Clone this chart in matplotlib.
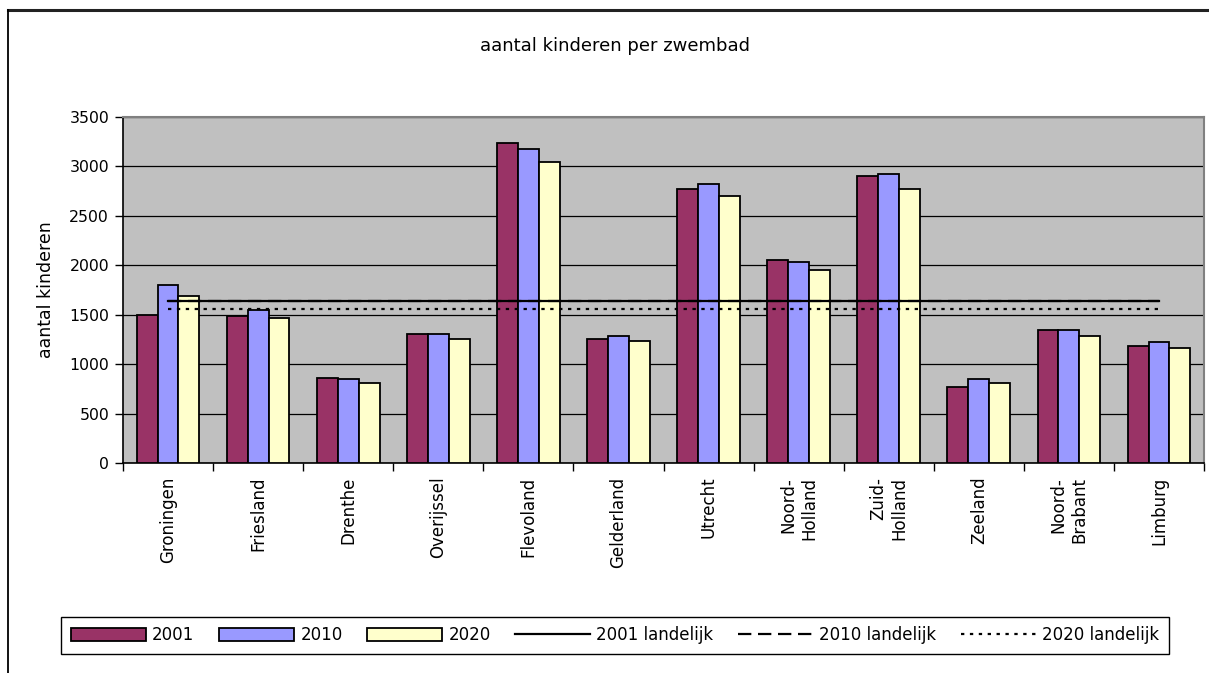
import matplotlib
matplotlib.use("Agg")
import matplotlib.pyplot as plt
import numpy as np
from matplotlib.lines import Line2D

# ---- data ----
provinces = ["Groningen", "Friesland", "Drenthe", "Overijssel", "Flevoland",
             "Gelderland", "Utrecht", "Noord-\nHolland", "Zuid-\nHolland",
             "Zeeland", "Noord-\nBrabant", "Limburg"]
v2001 = [1500, 1490, 860, 1305, 3240, 1250, 2775, 2050, 2900, 765, 1345, 1185]
v2010 = [1800, 1550, 845, 1305, 3180, 1285, 2820, 2030, 2920, 845, 1345, 1225]
v2020 = [1690, 1470, 805, 1250, 3040, 1230, 2700, 1955, 2775, 805, 1285, 1165]
nat2001 = 1640
nat2010 = 1636
nat2020 = 1560
series_labels = ["2001", "2010", "2020"]
line_labels = ["2001 landelijk", "2010 landelijk", "2020 landelijk"]
yticks = [0, 500, 1000, 1500, 2000, 2500, 3000, 3500]
title = "aantal kinderen per zwembad"
ylabel = "aantal kinderen"

colors = ["#993366", "#9999FF", "#FFFFCC"]

W, H = 1209, 673
fig = plt.figure(figsize=(W / 100, H / 100), dpi=100)
fig.patch.set_facecolor("white")

left, right, top, bottom = 123, 1204, 117, 463
ax = fig.add_axes([left / W, 1 - bottom / H, (right - left) / W, (bottom - top) / H])
ax.set_facecolor("#C0C0C0")

n = len(provinces)
x = np.arange(n)
bw = 0.232
bar_handles = []
for i, (vals, c, lab) in enumerate(zip([v2001, v2010, v2020], colors, series_labels)):
    b = ax.bar(x + (i - 1) * bw, vals, width=bw, color=c, edgecolor="black",
               linewidth=1.3, label=lab, zorder=3)
    bar_handles.append(b)

l1, = ax.plot(x, [nat2001] * n, color="black", lw=1.6, ls="-", zorder=4, label=line_labels[0])
l2, = ax.plot(x, [nat2010] * n, color="black", lw=1.6, ls=(0, (6, 3)), zorder=4, label=line_labels[1])
l3, = ax.plot(x, [nat2020] * n, color="black", lw=1.6, ls=(0, (1.5, 2.5)), zorder=4, label=line_labels[2])

ax.set_xlim(-0.5, n - 0.5)
ax.set_ylim(0, 3500)
ax.set_yticks(yticks)
ax.set_yticklabels([str(t) for t in yticks], fontsize=11.3)
ax.yaxis.grid(True, color="black", lw=0.9, zorder=1)
ax.set_axisbelow(True)
ax.tick_params(axis="y", direction="out", length=6, width=1, color="black", pad=4)

# category tick marks at boundaries, labels at centers
ax.set_xticks(np.arange(n + 1) - 0.5)
ax.set_xticklabels([])
ax.tick_params(axis="x", direction="out", length=6, width=1, color="black")
for xi, lab in zip(x, provinces):
    ax.text(xi, -0.04, lab, transform=ax.get_xaxis_transform(), rotation=90,
            ha="center", va="top", multialignment="right", fontsize=12)

for s in ["left", "bottom"]:
    ax.spines[s].set_color("black")
    ax.spines[s].set_linewidth(1.2)
for s in ["top", "right"]:
    ax.spines[s].set_color("#808080")
    ax.spines[s].set_linewidth(1.5)

ax.set_ylabel(ylabel, fontsize=12.5, labelpad=10)

fig.text(615 / W, 1 - 46 / H, title, ha="center", va="center", fontsize=13)

# legend: bars first, then lines
handles = bar_handles + [l1, l2, l3]
labels = series_labels + line_labels
leg = fig.legend(handles, labels, loc="center", bbox_to_anchor=(615 / W, 1 - 635.5 / H),
                 ncol=6, fontsize=12, frameon=True, fancybox=False,
                 edgecolor="black", handlelength=4.5, handleheight=0.8,
                 handletextpad=0.4, columnspacing=1.45, borderpad=0.55,
                 borderaxespad=0)
leg.get_frame().set_linewidth(1.0)
leg.get_frame().set_alpha(1)

# outer frame
fig.add_artist(Line2D([8 / W, 1.0], [1 - 9.5 / H, 1 - 9.5 / H], transform=fig.transFigure,
                      color="#222222", lw=2.2))
fig.add_artist(Line2D([8 / W, 8 / W], [0, 1 - 9.5 / H], transform=fig.transFigure,
                      color="black", lw=1.3))

fig.savefig("out.png", dpi=100)
